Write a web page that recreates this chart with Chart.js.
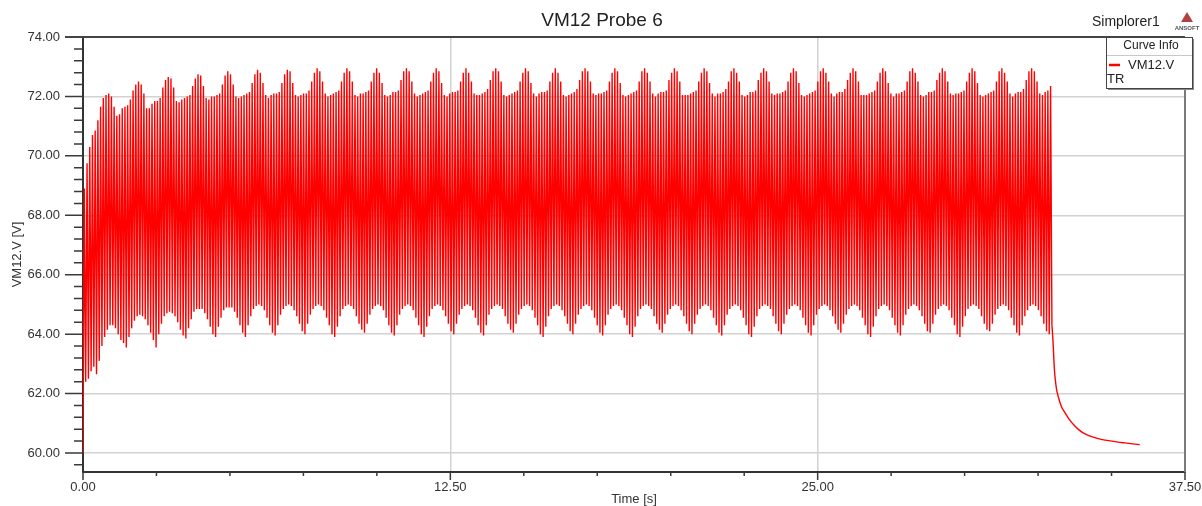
<!DOCTYPE html>
<html>
<head>
<meta charset="utf-8">
<title>VM12 Probe 6</title>
<script src="https://cdn.jsdelivr.net/npm/chart.js@4.4.0/dist/chart.umd.min.js"></script>
<style>
  html, body { margin: 0; padding: 0; background: #fff; }
  #wrap { width: 1202px; height: 506px; }
</style>
</head>
<body>
<div id="wrap"><canvas id="chart" width="1202" height="506"></canvas></div>
<script>
// ---- data ----
const chartTitle = "VM12 Probe 6";
const seriesName = "VM12.V";
const xTitle = "Time [s]";
const yTitle = "VM12.V [V]";

const xMin = 0, xMax = 37.5, xMajorStep = 12.5, xMinorStep = 2.5;
const yMin = 59.36, yMax = 74, yMajorStep = 2, yMinorStep = 0.4;

const startValue = 60.0;        // value at t = 0
const sampleStep = 0.04605;     // half an oscillation, s

// one value per oscillation peak (rows = one beat, starting at the beat maximum)
const upperPeaks = [
  68.9, 69.75, 70.3, 70.7, 70.85, 71.2, 71.65, 71.95, 72.05,
  72.1, 72.0, 71.65, 71.35, 71.4, 71.6, 71.65, 71.7, 71.9, 72.2, 72.4,
  72.5, 72.4, 72.1, 71.6, 71.6, 71.75, 71.85, 71.85, 71.95, 72.3, 72.55,
  72.65, 72.6, 72.3, 71.85, 71.8, 71.9, 71.95, 72.0, 72.05, 72.35, 72.6,
  72.75, 72.7, 72.35, 71.95, 71.9, 72.0, 72.0, 72.05, 72.1, 72.4, 72.7,
  72.85, 72.75, 72.4, 72.0, 71.95, 72.0, 72.05, 72.1, 72.15, 72.45, 72.75,
  72.9, 72.8, 72.45, 72.05, 71.95, 72.05, 72.1, 72.1, 72.15, 72.45, 72.75,
  72.9, 72.85, 72.45, 72.05, 72.0, 72.05, 72.1, 72.1, 72.2, 72.5, 72.8,
  72.95, 72.85, 72.5, 72.1, 72.0, 72.05, 72.1, 72.15, 72.2, 72.5, 72.8,
  72.95, 72.85, 72.5, 72.05, 72.0, 72.1, 72.1, 72.15, 72.2, 72.5, 72.8,
  72.95, 72.8, 72.45, 72.05, 72.0, 72.05, 72.15, 72.15, 72.2, 72.55, 72.85,
  72.95, 72.85, 72.5, 72.1, 72.0, 72.05, 72.1, 72.15, 72.2, 72.5, 72.8,
  72.95, 72.85, 72.45, 72.05, 72.0, 72.1, 72.15, 72.15, 72.2, 72.5, 72.8,
  72.95, 72.8, 72.5, 72.1, 72.05, 72.05, 72.1, 72.15, 72.25, 72.55, 72.85,
  72.95, 72.85, 72.5, 72.05, 72.0, 72.05, 72.1, 72.15, 72.2, 72.5, 72.8,
  72.95, 72.85, 72.45, 72.1, 72.0, 72.1, 72.15, 72.15, 72.2, 72.5, 72.8,
  72.95, 72.8, 72.5, 72.05, 72.0, 72.05, 72.1, 72.15, 72.25, 72.55, 72.85,
  72.95, 72.85, 72.5, 72.1, 72.05, 72.1, 72.1, 72.15, 72.2, 72.5, 72.8,
  72.95, 72.85, 72.45, 72.05, 72.0, 72.05, 72.1, 72.15, 72.2, 72.5, 72.85,
  72.95, 72.8, 72.5, 72.1, 72.0, 72.1, 72.15, 72.15, 72.2, 72.55, 72.8,
  72.95, 72.85, 72.5, 72.05, 72.05, 72.05, 72.1, 72.15, 72.2, 72.5, 72.8,
  72.95, 72.85, 72.45, 72.1, 72.0, 72.1, 72.1, 72.15, 72.25, 72.5, 72.85,
  72.95, 72.8, 72.5, 72.05, 72.0, 72.05, 72.15, 72.15, 72.2, 72.55, 72.8,
  72.95, 72.85, 72.5, 72.1, 72.05, 72.1, 72.1, 72.15, 72.2, 72.5, 72.8,
  72.95, 72.85, 72.45, 72.05, 72.0, 72.05, 72.1, 72.15, 72.2, 72.5, 72.85,
  72.95, 72.8, 72.5, 72.1, 72.0, 72.1, 72.15, 72.15, 72.25, 72.55, 72.8,
  72.95, 72.85, 72.5, 72.05, 72.05, 72.05, 72.1, 72.15, 72.2, 72.5, 72.8,
  72.95, 72.85, 72.45, 72.1, 72.0, 72.1, 72.1, 72.15, 72.2, 72.5, 72.85,
  72.95, 72.8, 72.5, 72.05, 72.0, 72.05, 72.15, 72.15, 72.2, 72.55, 72.8,
  72.95, 72.85, 72.5, 72.1, 72.05, 72.1, 72.1, 72.15, 72.2, 72.5, 72.8,
  72.95, 72.85, 72.45, 72.05, 72.0, 72.05, 72.1, 72.15, 72.2, 72.5, 72.85,
  72.95, 72.8, 72.5, 72.1, 72.0, 72.1, 72.15, 72.15, 72.25, 72.55, 72.85,
  72.95, 72.85, 72.5, 72.1, 72.05, 72.15, 72.2, 72.35
];

// the trough that follows each peak above
const lowerTroughs = [
  62.4, 62.5, 62.75, 62.9, 62.65, 63.1, 63.6, 63.9, 64.15,
  64.3, 64.3, 64.2, 64.0, 63.8, 63.7, 63.55, 63.9, 64.2, 64.45, 64.6,
  64.65, 64.6, 64.5, 64.3, 64.05, 63.8, 63.55, 64.0, 64.35, 64.6, 64.7,
  64.75, 64.7, 64.6, 64.4, 64.15, 63.95, 63.85, 64.2, 64.5, 64.75, 64.85,
  64.85, 64.85, 64.7, 64.5, 64.25, 64.0, 63.9, 64.25, 64.55, 64.8, 64.9,
  64.9, 64.9, 64.75, 64.55, 64.3, 64.05, 63.9, 64.3, 64.6, 64.85, 64.95,
  65.0, 64.95, 64.8, 64.55, 64.3, 64.05, 63.95, 64.3, 64.65, 64.85, 64.95,
  65.0, 64.95, 64.8, 64.6, 64.35, 64.1, 64.0, 64.35, 64.65, 64.85, 64.95,
  65.0, 64.95, 64.8, 64.55, 64.3, 64.0, 63.9, 64.25, 64.6, 64.85, 64.95,
  65.0, 64.95, 64.85, 64.6, 64.35, 64.15, 64.05, 64.35, 64.65, 64.85, 64.95,
  65.0, 64.95, 64.8, 64.55, 64.3, 64.05, 63.95, 64.3, 64.65, 64.85, 64.95,
  65.0, 64.95, 64.8, 64.55, 64.3, 64.0, 63.9, 64.25, 64.6, 64.85, 64.95,
  65.0, 64.95, 64.8, 64.6, 64.35, 64.1, 64.0, 64.35, 64.65, 64.85, 64.95,
  65.0, 64.95, 64.8, 64.55, 64.3, 64.05, 63.95, 64.3, 64.65, 64.85, 64.95,
  65.0, 64.95, 64.85, 64.6, 64.35, 64.15, 64.05, 64.35, 64.65, 64.85, 64.95,
  65.0, 64.95, 64.8, 64.55, 64.3, 64.0, 63.9, 64.25, 64.6, 64.85, 64.95,
  65.0, 64.95, 64.8, 64.6, 64.35, 64.1, 64.0, 64.35, 64.65, 64.85, 64.95,
  65.0, 64.95, 64.8, 64.55, 64.3, 64.05, 63.95, 64.3, 64.65, 64.85, 64.95,
  65.0, 64.95, 64.8, 64.55, 64.3, 64.0, 63.9, 64.25, 64.6, 64.85, 64.95,
  65.0, 64.95, 64.85, 64.6, 64.35, 64.15, 64.05, 64.35, 64.65, 64.85, 64.95,
  65.0, 64.95, 64.8, 64.6, 64.35, 64.1, 64.0, 64.35, 64.65, 64.85, 64.95,
  65.0, 64.95, 64.8, 64.55, 64.3, 64.05, 63.95, 64.3, 64.65, 64.85, 64.95,
  65.0, 64.95, 64.8, 64.55, 64.3, 64.0, 63.9, 64.25, 64.6, 64.85, 64.95,
  65.0, 64.95, 64.85, 64.6, 64.35, 64.1, 64.0, 64.35, 64.65, 64.85, 64.95,
  65.0, 64.95, 64.8, 64.55, 64.3, 64.05, 63.95, 64.3, 64.65, 64.85, 64.95,
  65.0, 64.95, 64.8, 64.6, 64.35, 64.15, 64.05, 64.35, 64.65, 64.85, 64.95,
  65.0, 64.95, 64.8, 64.55, 64.3, 64.0, 63.9, 64.25, 64.6, 64.85, 64.95,
  65.0, 64.95, 64.8, 64.55, 64.3, 64.05, 63.95, 64.3, 64.65, 64.85, 64.95,
  65.0, 64.95, 64.8, 64.6, 64.35, 64.1, 64.05, 64.35, 64.65, 64.85, 64.95,
  65.0, 64.95, 64.8, 64.55, 64.3, 64.0, 63.9, 64.25, 64.6, 64.85, 64.95,
  65.0, 64.95, 64.85, 64.6, 64.35, 64.15, 64.1, 64.35, 64.65, 64.85, 64.95,
  65.0, 64.95, 64.8, 64.55, 64.3, 64.05, 63.95, 64.3, 64.6, 64.8, 64.95,
  65.0, 64.95, 64.8, 64.6, 64.35, 64.1, 64.0, 64.3
];

// decay after the source is switched off
const tailTimes  = [33.0, 33.06, 33.12, 33.2, 33.3, 33.42, 33.56, 33.72, 33.9, 34.1, 34.35, 34.65, 35.0, 35.45, 35.96];
const tailValues = [63.9, 62.75, 62.2, 61.85, 61.55, 61.35, 61.13, 60.94, 60.77, 60.64, 60.54, 60.46, 60.4, 60.34, 60.28];

// ---- build the point lists ----
const points = [{x: 0, y: startValue}];
upperPeaks.forEach((p, i) => {
    points.push({x: (2 * i + 1) * sampleStep, y: p});
    points.push({x: (2 * i + 2) * sampleStep, y: lowerTroughs[i]});
});
const tailPoints = [points[points.length - 1]];
tailTimes.forEach((t, i) => tailPoints.push({x: t, y: tailValues[i]}));

const FONT = "'Liberation Sans', Arial, Helvetica, sans-serif";
const gridGrey = '#d2d2d2';

// tick marks, borders, title and the little legend box
const decor = {
    id: 'decor',
    afterDraw(chart) {
        const {ctx, chartArea: area, scales: {x, y}} = chart;
        ctx.save();

        // tick marks
        ctx.strokeStyle = '#3a3a3a';
        ctx.lineWidth = 1.5;
        ctx.beginPath();
        for (let i = -1; i <= 35; i++) {
            const v = 60 + i * yMinorStep;
            const py = y.getPixelForValue(v);
            const len = (i % 5 === 0) ? 18 : 9;
            ctx.moveTo(area.left - len, py);
            ctx.lineTo(area.left, py);
        }
        for (let i = 0; i <= 15; i++) {
            const px = x.getPixelForValue(xMin + i * xMinorStep);
            const len = (i % 5 === 0) ? 8 : 4;
            ctx.moveTo(px, area.bottom);
            ctx.lineTo(px, area.bottom + len);
        }
        ctx.stroke();

        // top and right frame
        ctx.strokeStyle = '#444';
        ctx.lineWidth = 2;
        ctx.beginPath();
        ctx.moveTo(area.left - 18, area.top);
        ctx.lineTo(area.right, area.top);
        ctx.stroke();
        ctx.strokeStyle = '#7a7a7a';
        ctx.beginPath();
        ctx.moveTo(area.right, area.top);
        ctx.lineTo(area.right, area.bottom);
        ctx.stroke();

        // title + tool name
        ctx.fillStyle = '#222';
        ctx.textBaseline = 'middle';
        ctx.textAlign = 'center';
        ctx.font = `19px ${FONT}`;
        ctx.fillText(chartTitle, 602, 21);
        ctx.textAlign = 'left';
        ctx.font = `14px ${FONT}`;
        ctx.fillText('Simplorer1', 1092, 22);

        // ANSOFT mark
        ctx.fillStyle = '#b0413e';
        ctx.beginPath();
        ctx.moveTo(1187, 12);
        ctx.lineTo(1181, 22);
        ctx.lineTo(1193, 22);
        ctx.closePath();
        ctx.fill();
        ctx.fillStyle = '#555';
        ctx.textAlign = 'center';
        ctx.font = `bold 6px ${FONT}`;
        ctx.fillText('ANSOFT', 1187, 28);

        // legend box
        const bx = 1106, by = 37, bw = 86, bh = 51;
        ctx.fillStyle = '#8a8a8a';
        ctx.fillRect(bx + 2, by + 2, bw, bh);
        ctx.fillStyle = '#fff';
        ctx.fillRect(bx, by, bw, bh);
        ctx.strokeStyle = '#444';
        ctx.lineWidth = 1;
        ctx.strokeRect(bx + 0.5, by + 0.5, bw, bh);
        ctx.strokeStyle = '#c8c8c8';
        ctx.beginPath();
        ctx.moveTo(bx + 1, 55.5);
        ctx.lineTo(bx + bw, 55.5);
        ctx.stroke();

        ctx.fillStyle = '#222';
        ctx.font = `12px ${FONT}`;
        ctx.textAlign = 'center';
        ctx.fillText('Curve Info', bx + bw / 2 + 2, 46);

        ctx.strokeStyle = '#ff0000';
        ctx.lineWidth = 2.5;
        ctx.beginPath();
        ctx.moveTo(1109, 65);
        ctx.lineTo(1120, 65);
        ctx.stroke();

        ctx.font = `13px ${FONT}`;
        ctx.textAlign = 'left';
        ctx.fillText(seriesName, 1128, 65);
        ctx.fillText('TR', 1107, 79);

        ctx.restore();
    }
};

new Chart(document.getElementById('chart'), {
    type: 'line',
    data: {
        datasets: [{
            label: seriesName,
            data: points,
            borderColor: '#ff0000',
            borderWidth: 1.4,
            pointRadius: 0,
            tension: 0,
            fill: false
        }, {
            label: seriesName + ' (decay)',
            data: tailPoints,
            borderColor: '#ff0000',
            borderWidth: 1.4,
            pointRadius: 0,
            cubicInterpolationMode: 'monotone',
            fill: false
        }]
    },
    options: {
        responsive: false,
        animation: false,
        parsing: false,
        normalized: true,
        layout: { padding: { top: 37, right: 17, left: 0, bottom: 0 } },
        plugins: {
            legend: { display: false },
            tooltip: { enabled: false },
            title: { display: false }
        },
        scales: {
            x: {
                type: 'linear',
                min: xMin,
                max: xMax,
                afterFit: (scale) => {
                    scale.height = 34;
                    scale.paddingLeft = 0;
                    scale.paddingRight = 0;
                },
                ticks: {
                    stepSize: xMajorStep,
                    padding: 8,
                    color: '#333',
                    font: { family: FONT, size: 13 },
                    maxRotation: 0,
                    callback: (v) => Number(v).toFixed(2)
                },
                grid: {
                    drawTicks: false,
                    color: (c) => (c.tick && c.tick.value > xMin && c.tick.value < xMax) ? gridGrey : 'rgba(0,0,0,0)',
                    lineWidth: 1.5
                },
                border: { display: true, color: '#333', width: 2 },
                title: {
                    display: true,
                    text: xTitle,
                    color: '#333',
                    font: { family: FONT, size: 13, lineHeight: 1 },
                    padding: { top: 0, bottom: 0 }
                }
            },
            y: {
                type: 'linear',
                min: yMin,
                max: yMax,
                afterFit: (scale) => {
                    scale.width = 83;
                    scale.paddingTop = 0;
                    scale.paddingBottom = 0;
                },
                ticks: {
                    stepSize: yMajorStep,
                    includeBounds: false,
                    padding: 23,
                    color: '#333',
                    font: { family: FONT, size: 13 },
                    callback: (v) => Number(v).toFixed(2)
                },
                grid: {
                    drawTicks: false,
                    color: (c) => (c.tick && c.tick.value >= 60 && c.tick.value < yMax) ? gridGrey : 'rgba(0,0,0,0)',
                    lineWidth: 1.5
                },
                border: { display: true, color: '#333', width: 2 },
                title: {
                    display: true,
                    text: yTitle,
                    color: '#333',
                    font: { family: FONT, size: 13, lineHeight: 1 },
                    padding: { top: 10.5, bottom: 0 }
                }
            }
        }
    },
    plugins: [decor]
});
</script>
</body>
</html>
